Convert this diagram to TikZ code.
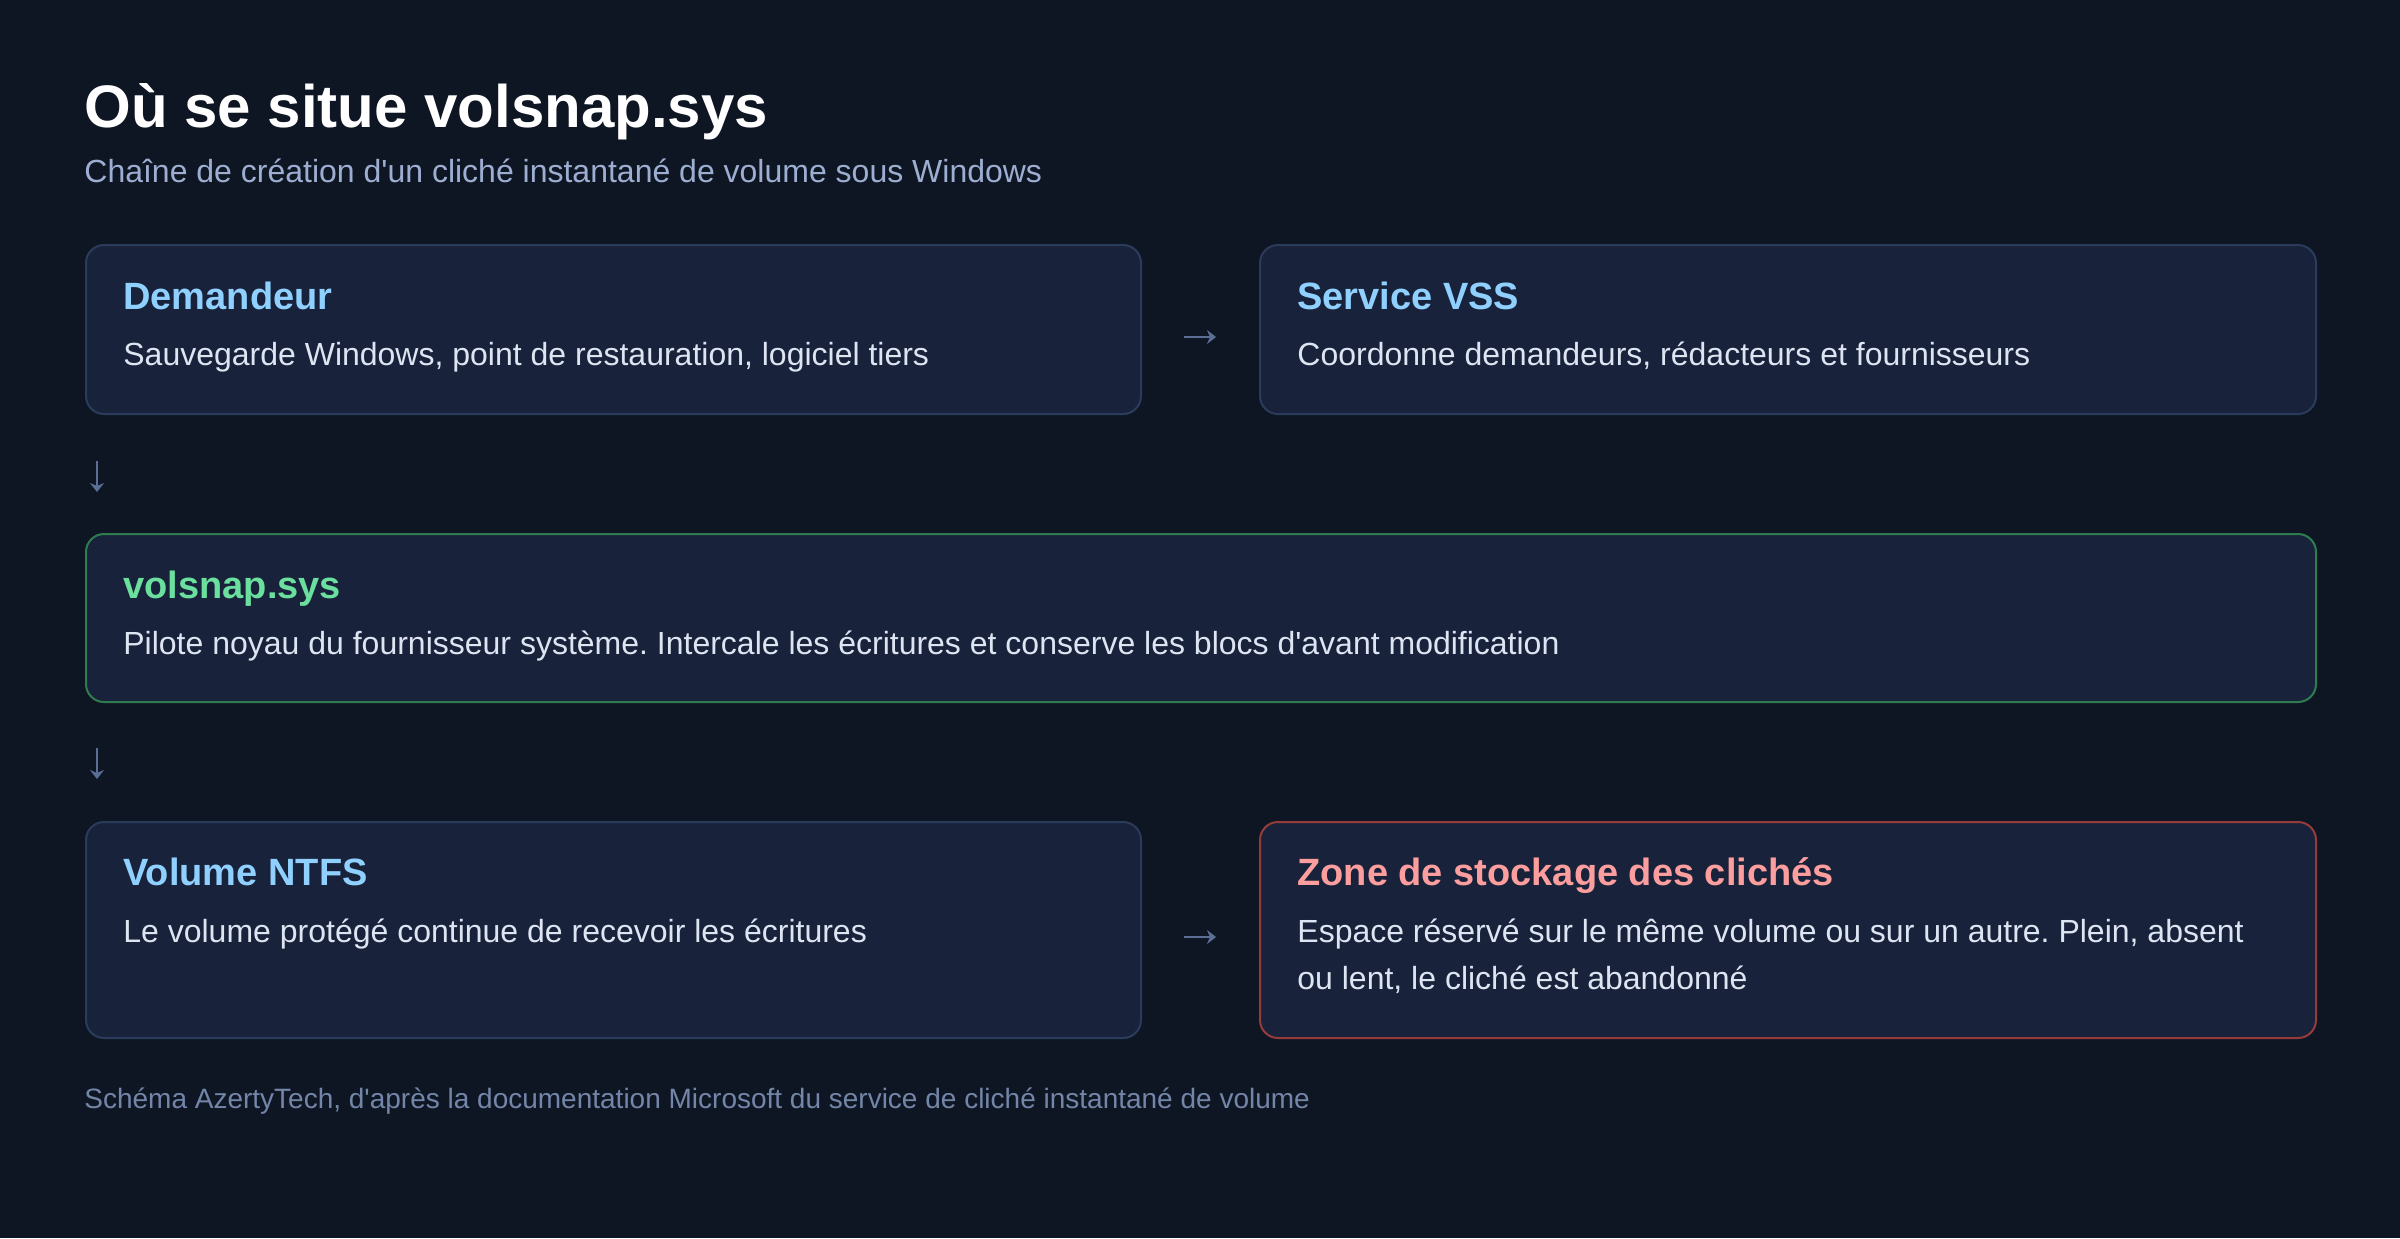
\documentclass[tikz,border=0pt]{standalone}
\usepackage{fontspec}
\setmainfont{Liberation Sans}
\frenchspacing
\usetikzlibrary{arrows.meta}
\definecolor{bg}{HTML}{0F1623}
\definecolor{boxfill}{HTML}{18223A}
\definecolor{boxline}{HTML}{2B3B5C}
\definecolor{titleblue}{HTML}{8FD0FF}
\definecolor{greent}{HTML}{6BDF9E}
\definecolor{greenl}{HTML}{2F7D4E}
\definecolor{redt}{HTML}{FD9E9E}
\definecolor{redl}{HTML}{963B3B}
\definecolor{bodyc}{HTML}{DDE4F2}
\definecolor{subc}{HTML}{9DAED2}
\definecolor{footc}{HTML}{7385A8}
\definecolor{arrc}{HTML}{5B6F96}
\newcommand{\apos}{\textquotesingle}
\begin{document}
\begin{tikzpicture}[x=0.5pt,y=-0.5pt,
  box/.style={draw=boxline, fill=boxfill, line width=1pt, rounded corners=9pt, inner sep=0pt, anchor=north west},
  btitle/.style={anchor=base west, inner sep=0pt, font=\fontsize{19pt}{23pt}\selectfont\bfseries, text=titleblue},
  bdesc/.style={anchor=base west, inner sep=0pt, font=\fontsize{16pt}{23.5pt}\selectfont, text=bodyc},
  arr/.style={draw=arrc, line width=1.1pt, -{Stealth[length=4.5pt,width=7pt,inset=1.5pt]}}]
\fill[bg] (0,0) rectangle (2400,1238);
\useasboundingbox (0,0) rectangle (2400,1238);

\node[anchor=base west, inner sep=0pt, font=\fontsize{30pt}{36pt}\selectfont\bfseries, text=white] (title) at (84,127) {Où se situe volsnap.sys};
\node[anchor=base west, inner sep=0pt, font=\fontsize{16pt}{20pt}\selectfont, text=subc] (subtitle) at (84,182) {Chaîne de création d\apos un cliché instantané de volume sous Windows};

% row 1
\node[box, minimum width=527.5pt, minimum height=84.5pt] (a) at (85,244) {};
\node[box, minimum width=528pt, minimum height=84.5pt] (b) at (1259,244) {};
\node[btitle] (at) at (123,309) {Demandeur};
\node[bdesc] (ad) at (123,365) {Sauvegarde Windows, point de restauration, logiciel tiers};
\node[btitle] (bt) at (1297,309) {Service VSS};
\node[bdesc] (bd) at (1297,365) {Coordonne demandeurs, rédacteurs et fournisseurs};

% row 2
\node[box, draw=greenl, minimum width=1115pt, minimum height=84pt] (c) at (85,533) {};
\node[btitle, text=greent] (ct) at (123,598) {volsnap.sys};
\node[bdesc] (cd) at (123,654) {Pilote noyau du fournisseur système. Intercale les écritures et conserve les blocs d\apos avant modification};

% row 3
\node[box, minimum width=527.5pt, minimum height=108pt] (d) at (85,821) {};
\node[box, draw=redl, minimum width=528pt, minimum height=108pt] (e) at (1259,821) {};
\node[btitle] (dt) at (123,885) {Volume NTFS};
\node[bdesc] (dd) at (123,942) {Le volume protégé continue de recevoir les écritures};
\node[btitle, text=redt] (et) at (1297,885) {Zone de stockage des clichés};
\node[bdesc] (ed1) at (1297,942) {Espace réservé sur le même volume ou sur un autre. Plein, absent};
\node[bdesc] (ed2) at (1297,989) {ou lent, le cliché est abandonné};

% arrows
\coordinate (r1s) at (1184,337); \coordinate (r1e) at (1216,337);
\coordinate (r2s) at (1184,937); \coordinate (r2e) at (1216,937);
\coordinate (d1s) at (97,461); \coordinate (d1e) at (97,492);
\coordinate (d2s) at (97,748); \coordinate (d2e) at (97,779);
\draw[arr] (r1s) -- (r1e);
\draw[arr] (r2s) -- (r2e);
\draw[arr] (d1s) -- (d1e);
\draw[arr] (d2s) -- (d2e);

\node[anchor=base west, inner sep=0pt, font=\fontsize{14pt}{18pt}\selectfont, text=footc] (foot) at (84,1108) {Schéma AzertyTech, d\apos après la documentation Microsoft du service de cliché instantané de volume};
\end{tikzpicture}
\end{document}
